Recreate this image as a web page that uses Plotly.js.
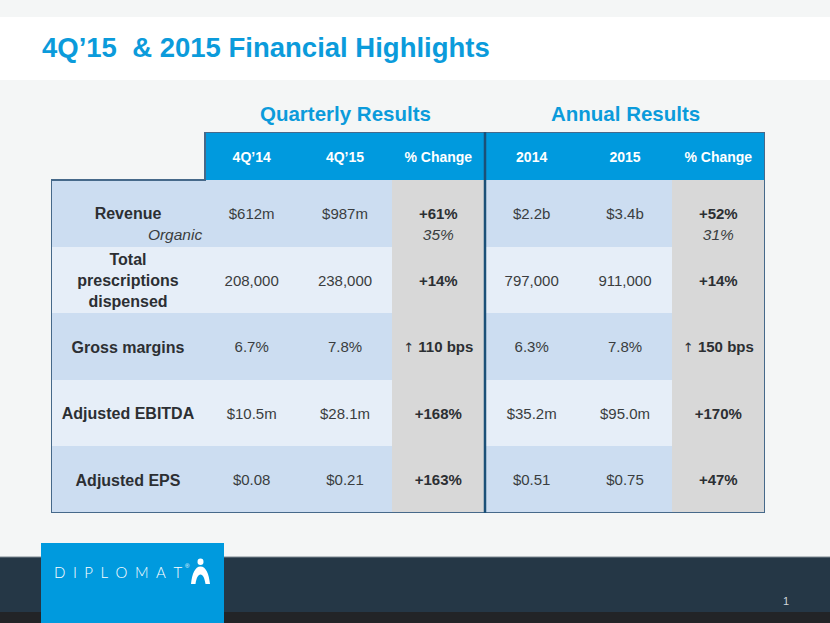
<!DOCTYPE html>
<html>
<head>
<meta charset="utf-8">
<script src="https://cdn.plot.ly/plotly-3.0.1.min.js"></script>
<style>html,body{margin:0;padding:0;background:#F4F6F6;}#chart{width:830px;height:623px;}</style>
</head>
<body>
<div id="chart"></div>
<script>
// ---------- DATA ----------
const pageTitle = "4Q\u201915\u00a0 & 2015 Financial Highlights";
const groupTitles = ["Quarterly Results", "Annual Results"];
const columnHeaders = ["4Q\u201914", "4Q\u201915", "% Change", "2014", "2015", "% Change"];
const rowLabels = ["Revenue", "Total<br>prescriptions<br>dispensed", "Gross margins", "Adjusted EBITDA", "Adjusted EPS"];
const q4_2014 = ["$612m", "208,000", "6.7%", "$10.5m", "$0.08"];
const q4_2015 = ["$987m", "238,000", "7.8%", "$28.1m", "$0.21"];
const qChange = ["+61%", "+14%", "\u2191 110 bps", "+168%", "+163%"];
const fy2014 = ["$2.2b", "797,000", "6.3%", "$35.2m", "$0.51"];
const fy2015 = ["$3.4b", "911,000", "7.8%", "$95.0m", "$0.75"];
const fyChange = ["+52%", "+14%", "\u2191 150 bps", "+170%", "+47%"];
const subLabel = "Organic";
const qOrganic = "35%";
const fyOrganic = "31%";
const brand = "DIPLOMAT";
const pageNumber = "1";

// ---------- LAYOUT CONSTANTS ----------
const W = 830, H = 623;
const X = p => p / W, Y = p => 1 - p / H;
const TL = 51, TR = 765, HT = 132, BT = 180, BB = 513, LABELW = 154;
const nCols = columnHeaders.length, nRows = rowLabels.length;
const colW = (TR - TL - LABELW) / nCols;
const rowH = (BB - BT) / nRows;
const xmin = -0.5 - LABELW / colW, xmax = nCols - 0.5;
const ymin = -0.5 - (BT - HT) / rowH, ymax = nRows - 0.5;
const labelX = (xmin - 0.5) / 2;
const headerY = (ymin - 0.5) / 2 + 2 / rowH;
const nudge = 2 / rowH;
const subOff = 23 / rowH;

const FONT = "Liberation Sans, Arial, Helvetica, sans-serif";
const BLUE = "#009ADE", TITLE_BLUE = "#0B9BDB";
const TXT = "#3a3d40", LBL = "#2c2f33";

// ---------- CELL BACKGROUNDS (heatmap) ----------
const xEdges = [xmin]; for (let i = 0; i <= nCols; i++) xEdges.push(i - 0.5);
const yEdges = [ymin]; for (let j = 0; j <= nRows; j++) yEdges.push(j - 0.5);
const changeCols = [2, 5];
const z = [];
const hdr = [null]; for (let i = 0; i < nCols; i++) hdr.push(3);
z.push(hdr);
for (let j = 0; j < nRows; j++) {
  const row = [];
  for (let c = 0; c <= nCols; c++) {
    if (c > 0 && changeCols.includes(c - 1)) row.push(2);
    else row.push(j % 2);
  }
  z.push(row);
}
const c0 = "#CCDDF1", c1 = "#E6EEF8", c2 = "#D8D8D8", c3 = BLUE;
const traces = [{
  type: "heatmap", x: xEdges, y: yEdges, z: z, zmin: 0, zmax: 3,
  colorscale: [[0, c0], [0.1667, c0], [0.1667, c1], [0.5, c1], [0.5, c2], [0.8333, c2], [0.8333, c3], [1, c3]],
  showscale: false, hoverinfo: "skip", xaxis: "x", yaxis: "y"
}];

function textTrace(xs, ys, texts, font, pos) {
  return { type: "scatter", mode: "text", x: xs, y: ys, text: texts,
    textposition: pos || "middle center", textfont: font, hoverinfo: "skip",
    cliponaxis: false, showlegend: false, xaxis: "x", yaxis: "y" };
}
const rowY = rowLabels.map((_, j) => j + nudge);
const arrowFix = s => s.replace("\u2191", '<span style="font-family:DejaVu Sans;font-weight:normal;font-size:13px">\u2191</span>');
// headers
traces.push(textTrace(columnHeaders.map((_, i) => i), columnHeaders.map(() => headerY),
  columnHeaders.map(t => "<b>" + t + "</b>"), { family: FONT, size: 14, color: "#ffffff" }));
// row labels
traces.push(textTrace(rowLabels.map(() => labelX), rowY, rowLabels.map(t => "<b>" + t + "</b>"),
  { family: FONT, size: 16, color: LBL }));
// value columns
const cols = [q4_2014, q4_2015, qChange, fy2014, fy2015, fyChange];
cols.forEach((vals, i) => {
  const bold = changeCols.includes(i);
  traces.push(textTrace(vals.map(() => i), rowY, vals.map(v => bold ? "<b>" + arrowFix(v) + "</b>" : v),
    { family: FONT, size: 15, color: bold ? LBL : TXT }));
});
// sub-lines (organic)
traces.push(textTrace([-0.53], [subOff], ["<i>" + subLabel + "</i>"], { family: FONT, size: 15.5, color: TXT }, "middle left"));
traces.push(textTrace([2, 5], [subOff, subOff], ["<i>" + qOrganic + "</i>", "<i>" + fyOrganic + "</i>"], { family: FONT, size: 15.5, color: TXT }));

// ---------- SHAPES ----------
const shapes = [
  { type: "rect", xref: "paper", yref: "paper", x0: 0, x1: 1, y0: Y(80), y1: Y(17), fillcolor: "#ffffff", line: { width: 0 }, layer: "below" },
  { type: "rect", xref: "paper", yref: "paper", x0: 0, x1: 1, y0: Y(612), y1: Y(557), fillcolor: "#253746", line: { width: 0 } },
  { type: "rect", xref: "paper", yref: "paper", x0: 0, x1: 1, y0: Y(623), y1: Y(612), fillcolor: "#222427", line: { width: 0 } },
  { type: "line", xref: "paper", yref: "paper", x0: 0, x1: 1, y0: Y(557), y1: Y(557), line: { color: "#7d8890", width: 1 } },
  { type: "rect", xref: "paper", yref: "paper", x0: X(41), x1: X(224), y0: Y(623), y1: Y(543), fillcolor: BLUE, line: { width: 0 } },
  { type: "circle", xref: "paper", yref: "paper", x0: X(197.5), x1: X(203.5), y0: Y(565), y1: Y(558.5), fillcolor: "#ffffff", line: { width: 0 } },
  { type: "path", xref: "paper", yref: "paper", fillcolor: "#ffffff", line: { width: 0 },
    path: "M " + X(191) + "," + Y(584) + " C " + X(192) + "," + Y(574) + " " + X(195) + "," + Y(566.5) + " " + X(200.5) + "," + Y(566.5) +
      " C " + X(206) + "," + Y(566.5) + " " + X(209) + "," + Y(574) + " " + X(210) + "," + Y(584) +
      " L " + X(205.5) + "," + Y(584) + " C " + X(204.5) + "," + Y(578) + " " + X(203) + "," + Y(574.5) + " " + X(200.5) + "," + Y(574.5) +
      " C " + X(198) + "," + Y(574.5) + " " + X(196.5) + "," + Y(578) + " " + X(195.5) + "," + Y(584) + " Z" },
  // table border
  { type: "path", xref: "x", yref: "y", line: { color: "#46698A", width: 2 },
    path: "M " + xmin + "," + (-0.5) + " L -0.5," + (-0.5) + " L -0.5," + ymin + " L " + xmax + "," + ymin +
      " L " + xmax + "," + ymax + " L " + xmin + "," + ymax + " Z" },
  // divider between quarterly and annual
  { type: "line", xref: "x", yref: "y", x0: 2.5, x1: 2.5, y0: ymin, y1: ymax, line: { color: "#1B5078", width: 2.5 } }
];

// ---------- ANNOTATIONS ----------
const annotations = [
  { text: "<b>" + pageTitle + "</b>", xref: "paper", yref: "paper", x: X(40), y: Y(48), xanchor: "left", yanchor: "middle",
    showarrow: false, font: { family: FONT, size: 27.5, color: TITLE_BLUE } },
  { text: "<b>" + groupTitles[0] + "</b>", xref: "x", yref: "paper", x: 1, y: Y(114), xanchor: "center", yanchor: "middle",
    showarrow: false, font: { family: FONT, size: 20.5, color: TITLE_BLUE } },
  { text: "<b>" + groupTitles[1] + "</b>", xref: "x", yref: "paper", x: 4, y: Y(114), xanchor: "center", yanchor: "middle",
    showarrow: false, font: { family: FONT, size: 20.5, color: TITLE_BLUE } },
  { text: brand.split("").join("\u2002"), xref: "paper", yref: "paper", x: X(118), y: Y(572), xanchor: "center", yanchor: "middle",
    showarrow: false, font: { family: "Lato, " + FONT, size: 15, color: "#ffffff", weight: 300 } },
  { text: "\u00ae", xref: "paper", yref: "paper", x: X(187), y: Y(566), xanchor: "center", yanchor: "middle",
    showarrow: false, font: { family: FONT, size: 6, color: "#ffffff" } },
  { text: pageNumber, xref: "paper", yref: "paper", x: X(786), y: Y(601), xanchor: "center", yanchor: "middle",
    showarrow: false, font: { family: FONT, size: 11, color: "#d0d6da" } }
];

const layout = {
  width: W, height: H, margin: { l: 0, r: 0, t: 0, b: 0 },
  paper_bgcolor: "#F4F6F6", plot_bgcolor: "rgba(0,0,0,0)", showlegend: false,
  xaxis: { domain: [X(TL), X(TR)], range: [xmin, xmax], visible: false, fixedrange: true },
  yaxis: { domain: [Y(BB), Y(HT)], range: [ymax, ymin], visible: false, fixedrange: true },
  shapes: shapes, annotations: annotations
};
Plotly.newPlot("chart", traces, layout, { displayModeBar: false, staticPlot: true });
</script>
</body>
</html>
